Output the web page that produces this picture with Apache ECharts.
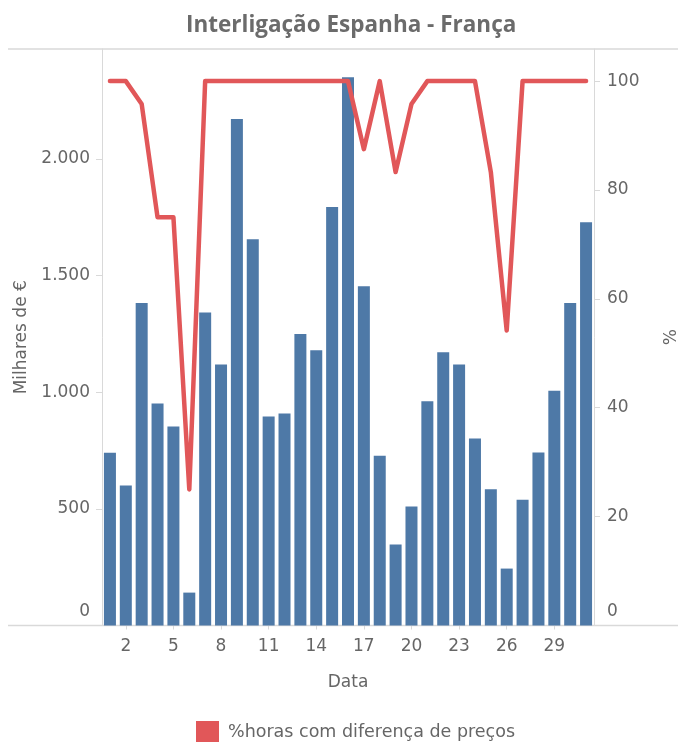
<!DOCTYPE html>
<html>
<head>
<meta charset="utf-8">
<script src="https://cdn.jsdelivr.net/npm/echarts@6/dist/echarts.min.js"></script>
<style>
html,body{margin:0;padding:0;background:#fff;}
#chart{width:678px;height:742px;}
</style>
</head>
<body>
<div id="chart"></div>
<script>
const days = ['1','2','3','4','5','6','7','8','9','10','11','12','13','14','15','16','17','18','19','20','21','22','23','24','25','26','27','28','29','30','31'];
const milharesEuro = [740,600,1382,952,853,141,1342,1119,2171,1656,896,909,1249,1180,1794,2350,1454,728,347,510,961,1171,1119,802,584,244,539,742,1006,1382,1728];
const pctHoras = [100,100,95.8,75,75,25,100,100,100,100,100,100,100,100,100,100,87.5,100,83.3,95.8,100,100,100,100,83.3,54.2,100,100,100,100,100];
const leftTicks = [0,500,1000,1500,2000];
const rightTicks = [0,20,40,60,80,100];
const titleText = 'Interligação Espanha - França';
const seriesName = '%horas com diferença de preços';

const FONT = '"DejaVu Sans", sans-serif';
const GREY = '#666666';
const LINEC = '#d9d9d9';
const FS = 17;

function fmtPt(v){ return String(v).replace(/\B(?=(\d{3})+(?!\d))/g,'.'); }

const chart = echarts.init(document.getElementById('chart'), null, {renderer:'canvas'});
const option = {
  animation:false,
  title:{
    text:titleText, left:186, top:14, padding:0,
    textStyle:{fontFamily:'"Open Sans", sans-serif', fontWeight:'bold', fontSize:22.5, color:'#6b6b6b'}
  },
  legend:{
    data:[seriesName], left:196, top:721, padding:0, icon:'rect', itemWidth:23, itemHeight:23,
    textStyle:{fontFamily:FONT, fontSize:17.5, color:GREY, padding:[0,0,0,4]}
  },
  grid:{left:102, right:84, top:49, bottom:116.5, containLabel:false, outerBoundsMode:'none'},
  xAxis:{
    type:'category', data:days,
    name:'Data', nameLocation:'middle', nameGap:49,
    nameTextStyle:{fontFamily:FONT, fontSize:FS, color:GREY},
    axisLine:{show:false},
    axisTick:{show:true, alignWithLabel:true, length:4, lineStyle:{color:LINEC},
      interval:function(i){return (i-1)%3===0;}},
    axisLabel:{interval:function(i){return (i-1)%3===0;}, margin:13,
      fontFamily:FONT, fontSize:FS, color:GREY}
  },
  yAxis:[
    {
      type:'value', min:0, max:2471, interval:500, position:'left',
      name:'Milhares de €', nameLocation:'middle', nameGap:70, nameRotate:90,
      nameTextStyle:{fontFamily:FONT, fontSize:FS, color:GREY},
      axisLine:{show:true, lineStyle:{color:LINEC}},
      axisTick:{show:true, length:6, lineStyle:{color:LINEC}, customValues:leftTicks},
      splitLine:{show:false},
      axisLabel:{margin:12, fontFamily:FONT, fontSize:FS, color:GREY,
        customValues:leftTicks,
        formatter:function(v){ return v===0 ? '{z|0}' : fmtPt(v); },
        rich:{z:{fontFamily:FONT, fontSize:FS, color:GREY, padding:[0,0,28,0]}}}
    },
    {
      type:'value', min:0, max:105.9, interval:20, position:'right',
      name:'%', nameLocation:'middle', nameGap:69, nameRotate:90,
      nameTextStyle:{fontFamily:FONT, fontSize:FS, color:GREY},
      axisLine:{show:true, lineStyle:{color:LINEC}},
      axisTick:{show:true, length:6, lineStyle:{color:LINEC}, customValues:rightTicks},
      splitLine:{show:false},
      axisLabel:{margin:13, fontFamily:FONT, fontSize:FS, color:GREY,
        customValues:rightTicks,
        formatter:function(v){ return v===0 ? '{z|0}' : String(v); },
        rich:{z:{fontFamily:FONT, fontSize:FS, color:GREY, padding:[0,0,28,0]}}}
    }
  ],
  graphic:[
    {type:'line', shape:{x1:8,y1:49,x2:678,y2:49}, style:{stroke:LINEC, lineWidth:1.5}, silent:true},
    {type:'line', shape:{x1:8,y1:625.5,x2:678,y2:625.5}, style:{stroke:LINEC, lineWidth:1.5}, silent:true}
  ],
  series:[
    {
      name:'Milhares de €', type:'bar', yAxisIndex:0, data:milharesEuro,
      barWidth:12, itemStyle:{color:'#4e79a7'}
    },
    {
      name:seriesName, type:'line', yAxisIndex:1, data:pctHoras,
      symbol:'none', lineStyle:{color:'#e15759', width:4.5, cap:'round', join:'round'},
      itemStyle:{color:'#e15759'}, z:5
    }
  ]
};
chart.setOption(option);
</script>
</body>
</html>
